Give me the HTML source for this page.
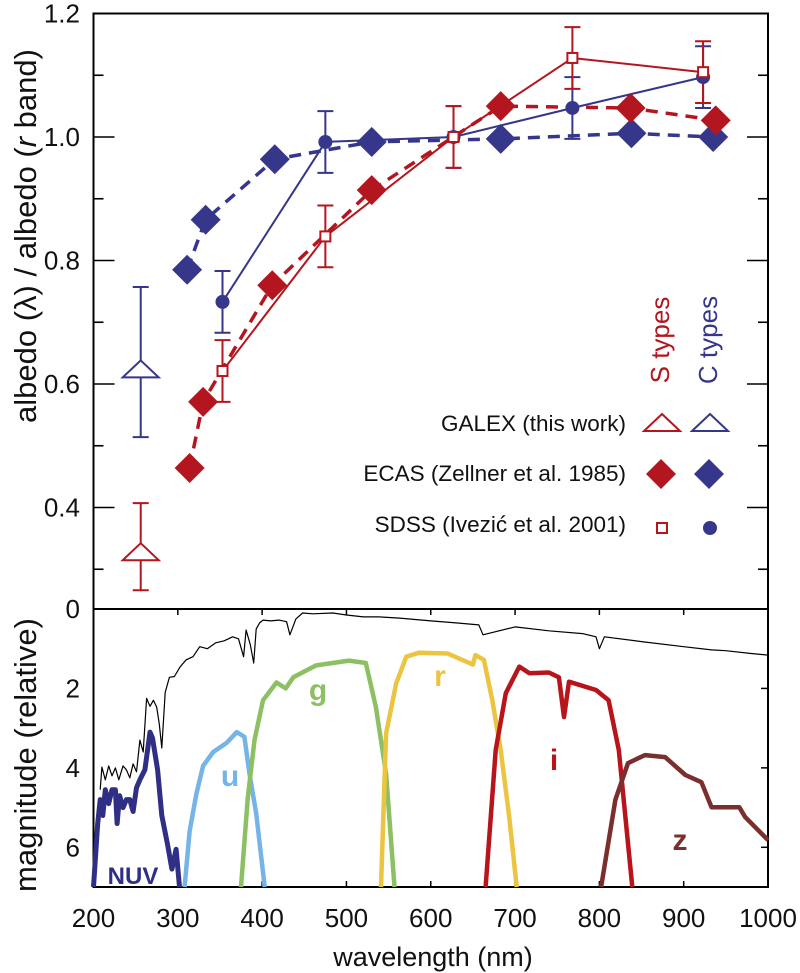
<!DOCTYPE html>
<html><head><meta charset="utf-8">
<style>
html,body{margin:0;padding:0;background:#fff;}
svg{display:block;}
text{font-family:"Liberation Sans Narrow","Liberation Sans",sans-serif;}
</style></head>
<body>
<svg id="chart" width="800" height="973" viewBox="0 0 800 973" xmlns="http://www.w3.org/2000/svg">
<g id="axes"></g>
<g id="lower"></g>
<g id="upper"></g>
<g id="legend"></g>
</svg>
<script>
// ---- upper panel data ----
const ecasS_nm = [314, 330, 412, 530, 683, 837, 938];
const ecasS_val = [0.464, 0.571, 0.760, 0.914, 1.050, 1.047, 1.027];
const ecasC_nm = [311, 333, 415, 530, 683, 838, 935];
const ecasC_val = [0.785, 0.866, 0.964, 0.992, 0.997, 1.006, 1.000];
const sdssS_nm = [353, 475, 627, 768, 923];
const sdssS_val = [0.621, 0.839, 1.0, 1.128, 1.105];
const sdssS_err = [0.05, 0.05, 0.05, 0.05, 0.05];
const sdssC_nm = [353, 475, 627, 768, 923];
const sdssC_val = [0.733, 0.992, 1.0, 1.047, 1.097];
const sdssC_err = [0.05, 0.05, 0.05, 0.05, 0.05];
const galexS = [256, 0.326, 0.266, 0.407]; // nm, val, lo, hi
const galexC = [256, 0.622, 0.514, 0.757];
const yTicksUpper = [0.4, 0.6, 0.8, 1.0, 1.2];
const yTickLabelsUpper = ["0.4", "0.6", "0.8", "1.0", "1.2"];
const xTicks = [200, 300, 400, 500, 600, 700, 800, 900, 1000];
const yTicksLower = [0, 2, 4, 6];
// ---- lower panel data (nm, mag) ----
const spec_nm = [208,210,214,218,222,226,230,235,239,243,247,251,255,259,263,267,271,275,278,281,285,290,296,303,310,318,326,335,345,355,365,372,378,381,386,390,393,397,401,410,420,429,433,440,448,460,484,500,520,539,563,600,630,657,662,700,740,780,796,800,806,850,900,933,950,980,1000];
const spec_mag = [4.55,3.98,4.3,3.95,4.2,4.0,4.3,3.95,4.05,4.25,3.9,4.1,3.3,3.6,2.25,2.45,2.3,2.47,2.9,3.5,2.1,1.72,1.7,1.45,1.28,1.2,0.95,1.0,0.85,0.8,0.7,0.75,1.2,0.53,0.9,1.36,0.5,0.35,0.28,0.3,0.28,0.32,0.65,0.25,0.1,0.12,0.1,0.15,0.2,0.2,0.23,0.3,0.35,0.4,0.65,0.45,0.55,0.62,0.7,1.0,0.7,0.82,0.95,1.03,1.05,1.12,1.16];
const nuv_nm = [200,205,208,211,214,218,222,226,228,231,235,239,243,247,251,255,261,267,270,276,281,288,293,298,302];
const nuv_mag = [7.0,5.4,4.8,5.2,4.55,4.9,4.55,4.55,5.4,4.7,5.0,4.8,4.8,5.1,4.5,4.3,4.05,3.1,3.25,4.05,5.2,5.95,6.55,6.05,7.0];
const u_nm = [308,314,322,330,342,358,370,379,385,393,403];
const u_mag = [7.0,5.6,4.65,3.95,3.6,3.37,3.1,3.22,4.15,5.15,7.0];
const g_nm = [375,383,391,401,417,428,437,464,503,523,535,547,557];
const g_mag = [7.0,4.75,3.3,2.3,1.85,2.0,1.72,1.42,1.3,1.36,2.47,4.15,7.0];
const r_nm = [541,547,559,571,586,620,650,653,663,673,683,693,702];
const r_mag = [7.0,3.13,1.87,1.2,1.1,1.12,1.4,1.16,1.28,2.3,3.55,5.23,7.0];
const i_nm = [665,677,689,705,717,740,752,758,764,796,811,823,839];
const i_mag = [7.0,3.55,2.12,1.45,1.62,1.6,1.72,2.72,1.83,2.04,2.3,3.55,7.0];
const z_nm = [802,819,834,854,878,902,921,933,966,973,1000];
const z_mag = [7.0,4.8,3.88,3.68,3.73,4.18,4.36,4.99,4.99,5.24,5.82];

const NS="http://www.w3.org/2000/svg";
const L=93.5, R=768, TOP=13.5, MID=609, BOT=887;
function xS(nm){return L+(nm-200)*(R-L)/800;}
function yU(v){return TOP+(1.2-v)*617.5;}
function yL(m){return MID+m*(BOT-MID)/7;}
function mk(parent,tag,attrs,txt){const e=document.createElementNS(NS,tag);for(const k in attrs)e.setAttribute(k,attrs[k]);if(txt!==undefined)e.textContent=txt;parent.appendChild(e);return e;}
const RED="#b3161e", BLUE="#36368a";
const axes=document.getElementById('axes'), up=document.getElementById('upper'), lo=document.getElementById('lower'), lg=document.getElementById('legend');

let f=mk(axes,'rect',{x:L,y:TOP,width:R-L,height:BOT-TOP,fill:'none',stroke:'#000','stroke-width':2});

let dv=mk(axes,'line',{x1:L,x2:R,y1:MID,y2:MID,stroke:'#000','stroke-width':2});

for(let v=0.3;v<=1.2001;v+=0.1){
  const y=yU(v); const major=Math.abs(v*10%2)<0.01||Math.abs(v*10%2-2)<0.01;
  const len=major?21:10;
  let t=mk(axes,'line',{x1:L,x2:L+len,y1:y,y2:y,stroke:'#000','stroke-width':1.6});
  
  let t2=mk(axes,'line',{x1:R,x2:R-len,y1:y,y2:y,stroke:'#000','stroke-width':1.6});
  
}
yTicksUpper.forEach((v,i)=>{
  let t=mk(axes,'text',{x:80,y:yU(v)+9,'text-anchor':'end','font-size':26,fill:'#111'},yTickLabelsUpper[i]);
  
});
yTicksLower.forEach(m=>{
  let t=mk(axes,'text',{x:80,y:yL(m)+9,'text-anchor':'end','font-size':26,fill:'#111'},String(m));
  
  if(m>0){let k=mk(axes,'line',{x1:R,x2:R-7,y1:yL(m),y2:yL(m),stroke:'#000','stroke-width':1.5});
  }
});
xTicks.forEach(n=>{
  const x=xS(n);
  let a=mk(axes,'line',{x1:x,x2:x,y1:MID,y2:MID+6,stroke:'#000','stroke-width':1.5});
  
  let b=mk(axes,'line',{x1:x,x2:x,y1:BOT,y2:BOT-6,stroke:'#000','stroke-width':1.5});
  
  let t=mk(axes,'text',{x:x,y:927,'text-anchor':'middle','font-size':26,fill:'#111'},String(n));
  
});
let xl=mk(axes,'text',{x:433,y:966,'text-anchor':'middle','font-size':27,fill:'#111'},'wavelength (nm)');

let yl1=mk(axes,'text',{x:0,y:0,transform:'translate(36,236) rotate(-90)','text-anchor':'middle','font-size':31,fill:'#111'});

yl1.innerHTML='albedo (λ) / albedo (<tspan font-style="italic">r</tspan> band)';
let yl2=mk(axes,'text',{x:0,y:0,transform:'translate(36,755) rotate(-90)','text-anchor':'middle','font-size':31,fill:'#111'},'magnitude (relative)');


function curve(nm,mag,color,w,name){
  const d=nm.map((n,i)=>(i?'L':'M')+xS(n).toFixed(1)+','+yL(mag[i]).toFixed(1)).join(' ');
  let p=mk(lo,'path',{d:d,fill:'none',stroke:color,'stroke-width':w,'stroke-linejoin':'round'});
  
}
curve(spec_nm,spec_mag,'#000',1.2,'solar-spectrum');
curve(nuv_nm,nuv_mag,'#2f2f86',5,'nuv-filter-curve');
curve(u_nm,u_mag,'#74b4e8',4.5,'u-filter-curve');
curve(g_nm,g_mag,'#8dc063',4.5,'g-filter-curve');
curve(r_nm,r_mag,'#ecc440',4.5,'r-filter-curve');
curve(i_nm,i_mag,'#b8141c',4.5,'i-filter-curve');
curve(z_nm,z_mag,'#7a2e2e',4.5,'z-filter-curve');
[['NUV',133,884,'#2f2f86'],['u',230,786,'#74b4e8'],['g',318,700,'#8dc063'],['r',440,686,'#ecc440'],['i',554,770,'#b8141c'],['z',680,850,'#7a2e2e']].forEach(a=>{
  let t=mk(lo,'text',{x:a[1],y:a[2],'text-anchor':'middle','font-size':a[0]==='NUV'?24:30,'font-weight':'bold',fill:a[3],'font-family':'Liberation Sans, sans-serif'},a[0]);
  
});

function line(nm,val,color,dash,name){
  const d=nm.map((n,i)=>(i?'L':'M')+xS(n).toFixed(1)+','+yU(val[i]).toFixed(1)).join(' ');
  let p=mk(up,'path',{d:d,fill:'none',stroke:color,'stroke-width':dash?3.5:2,'stroke-dasharray':dash?'12,8':'none'});
  
}
function errbar(x,y1,y2,color,name){
  let g=mk(up,'g',{stroke:color,'stroke-width':2});
  
  mk(g,'line',{x1:x,x2:x,y1:y1,y2:y2});
  mk(g,'line',{x1:x-8,x2:x+8,y1:y1,y2:y1});
  mk(g,'line',{x1:x-8,x2:x+8,y1:y2,y2:y2});
}
function diamond(parent,x,y,color,name){
  let p=mk(parent,'polygon',{points:`${x},${y-15} ${x+15},${y} ${x},${y+15} ${x-15},${y}`,fill:color});
  
}
function tri(parent,x,y,color,name){
  let p=mk(parent,'polygon',{points:`${x},${y-10} ${x+18},${y+7} ${x-18},${y+7}`,fill:'#fff',stroke:color,'stroke-width':2});
  
}
function sq(parent,x,y,color,name){
  let p=mk(parent,'rect',{x:x-5,y:y-5,width:10,height:10,fill:'#fff',stroke:color,'stroke-width':2});
  
}
function circ(parent,x,y,color,name){
  let p=mk(parent,'circle',{cx:x,cy:y,r:7,fill:color});
  
}
line(ecasS_nm,ecasS_val,RED,true,'ecas-s-line');
line(ecasC_nm,ecasC_val,BLUE,true,'ecas-c-line');
line(sdssS_nm,sdssS_val,RED,false,'sdss-s-line');
line(sdssC_nm,sdssC_val,BLUE,false,'sdss-c-line');
sdssC_nm.forEach((n,i)=>errbar(xS(n),yU(sdssC_val[i]+sdssC_err[i]),yU(sdssC_val[i]-sdssC_err[i]),BLUE,'sdss-c-errorbar'));
sdssS_nm.forEach((n,i)=>errbar(xS(n),yU(sdssS_val[i]+sdssS_err[i]),yU(sdssS_val[i]-sdssS_err[i]),RED,'sdss-s-errorbar'));
errbar(xS(galexC[0]),yU(galexC[3]),yU(galexC[2]),BLUE,'galex-c-errorbar');
errbar(xS(galexS[0]),yU(galexS[3]),yU(galexS[2]),RED,'galex-s-errorbar');
tri(up,xS(galexC[0]),yU(galexC[1]),BLUE,'galex-c-point');
tri(up,xS(galexS[0]),yU(galexS[1]),RED,'galex-s-point');
ecasC_nm.forEach((n,i)=>diamond(up,xS(n),yU(ecasC_val[i]),BLUE,'ecas-c-point'));
ecasS_nm.forEach((n,i)=>diamond(up,xS(n),yU(ecasS_val[i]),RED,'ecas-s-point'));
sdssC_nm.forEach((n,i)=>circ(up,xS(n),yU(sdssC_val[i]),BLUE,'sdss-c-point'));
sdssS_nm.forEach((n,i)=>sq(up,xS(n),yU(sdssS_val[i]),RED,'sdss-s-point'));

let st=mk(lg,'text',{x:0,y:0,transform:'translate(669,340) rotate(-90)','text-anchor':'middle','font-size':26,fill:RED},'S types');

let ct=mk(lg,'text',{x:0,y:0,transform:'translate(717,340) rotate(-90)','text-anchor':'middle','font-size':26,fill:BLUE},'C types');

[['GALEX (this work)',431],['ECAS (Zellner et al. 1985)',481],['SDSS (Ivezić et al. 2001)',532]].forEach(a=>{
  let t=mk(lg,'text',{x:626,y:a[1],'text-anchor':'end','font-size':22.5,fill:'#111','font-family':'Liberation Sans, sans-serif'},a[0]);
  
});
tri(lg,662,424,RED,'legend-galex-s');tri(lg,710,424,BLUE,'legend-galex-c');
diamond(lg,661,474,RED,'legend-ecas-s');diamond(lg,709,474,BLUE,'legend-ecas-c');
sq(lg,662,528,RED,'legend-sdss-s');circ(lg,710,528,BLUE,'legend-sdss-c');
</script>
</body></html>
